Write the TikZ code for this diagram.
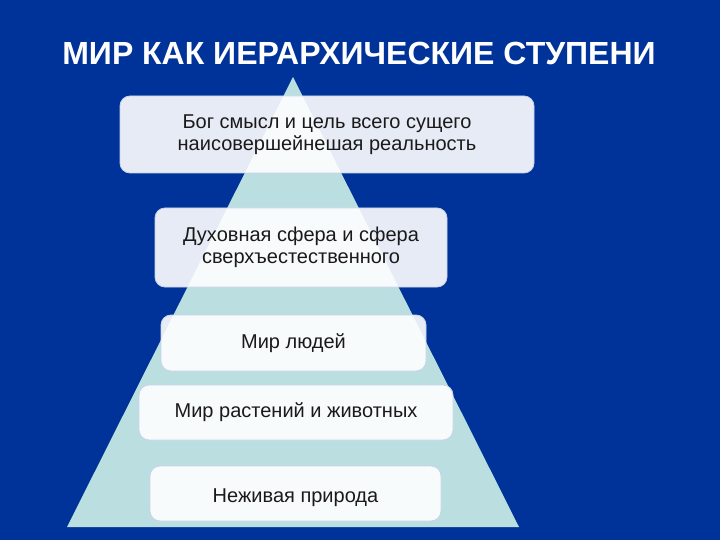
\documentclass[tikz,border=0pt]{standalone}
\usepackage{fontspec}
\setmainfont{Liberation Sans}
\definecolor{bgblue}{HTML}{003399}
\definecolor{tri}{HTML}{BBDFE1}
\definecolor{boxline}{HTML}{C9D3EA}
\definecolor{txt}{HTML}{1A1A1A}
\tikzset{
  tier/.style={draw=boxline, line width=0.8pt, fill=white, fill opacity=0.9, text opacity=1,
    rounded corners=10pt, align=center, text=txt, inner sep=0pt,
    font=\fontsize{20}{21.5}\selectfont},
}
\begin{document}
\begin{tikzpicture}[x=1pt,y=-1pt]
\fill[bgblue] (0,0) rectangle (720,540);
\useasboundingbox (0,0) rectangle (720,540);
\node[text=white, font=\fontsize{32}{36}\selectfont\bfseries] (title) at (359,53) {МИР КАК ИЕРАРХИЧЕСКИЕ СТУПЕНИ};
\coordinate (apex) at (293,77);
\coordinate (bl) at (67,527);
\coordinate (br) at (519,527);
\fill[tri] (apex) -- (br) -- (bl) -- cycle;
\node[tier, minimum width=414pt, minimum height=77pt] (god) at (327,134.5) {Бог смысл и цель всего сущего\\наисовершейнешая реальность};
\node[tier, minimum width=292pt, minimum height=79pt] (spirit) at (301,247.5) {Духовная сфера и сфера\\сверхъестественного};
\node[tier, minimum width=265pt, minimum height=56pt] (people) at (293.5,343) {Мир людей};
\node[tier, minimum width=314pt, minimum height=55pt] (life) at (296,412.5) {Мир растений и животных};
\node[tier, minimum width=291pt, minimum height=55pt] (nature) at (295.5,493.5) {\raisebox{-4pt}[\height][\depth]{Неживая природа}};
\end{tikzpicture}
\end{document}
